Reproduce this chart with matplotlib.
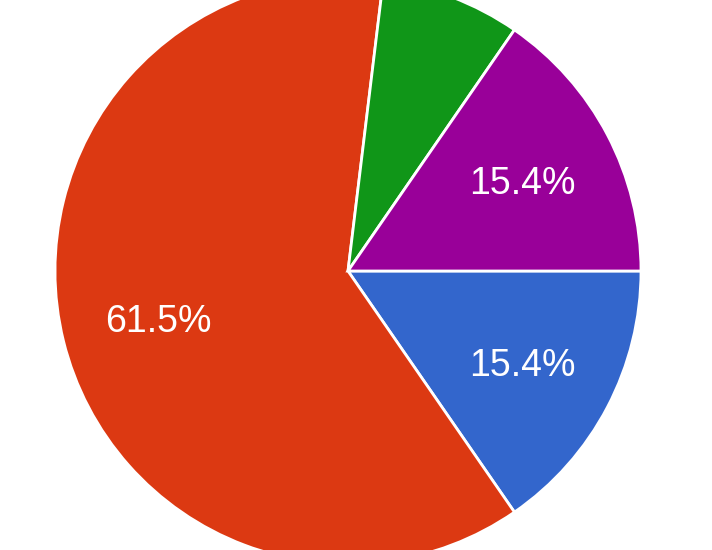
import matplotlib
matplotlib.use("Agg")
import matplotlib.pyplot as plt

categories = ["A", "B", "C", "D"]
values = [2, 8, 1, 2]
colors = ["#3366cc", "#dc3912", "#109618", "#990099"]

fig = plt.figure(figsize=(7.12, 5.5), dpi=100)
ax = fig.add_axes([0, 0, 1, 1])

def fmt(p):
    return f"{p:.1f}%" if p > 10 else ""

wedges, texts, autotexts = ax.pie(
    values, colors=colors, startangle=0, counterclock=False,
    center=(348, 550 - 271), radius=293,
    autopct=fmt, pctdistance=0.67,
    wedgeprops=dict(edgecolor="white", linewidth=2),
    textprops=dict(color="white", fontsize=27, family=["Liberation Sans", "DejaVu Sans"]),
)
for t in autotexts:
    x, y = t.get_position()
    t.set_position((x + 1, y - 4))
ax.set_xlim(0, 712)
ax.set_ylim(0, 550)
ax.set_aspect("equal")
ax.axis("off")
fig.savefig("out.png", dpi=100)
